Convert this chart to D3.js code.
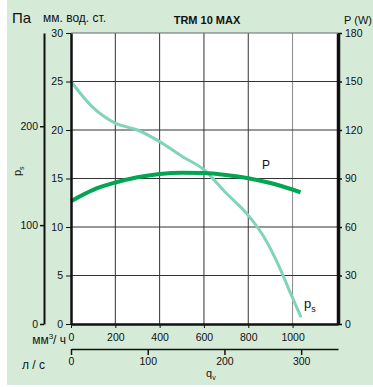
<!DOCTYPE html>
<html>
<head>
<meta charset="utf-8">
<script src="https://cdn.jsdelivr.net/npm/d3@7"></script>
<style>
  body { margin: 0; background: #fff; }
  svg text { font-family: "Liberation Sans", Arial, sans-serif; fill: #111; }
  .axis path, .axis line { stroke: #111; }
  .axis text { font-size: 10.5px; }
</style>
</head>
<body>
<svg id="chart" width="373" height="387"></svg>
<script>
// ---- data ----
var flowTicks = [0, 200, 400, 600, 800, 1000];        // m3/h
var mmTicks = [0, 5, 10, 15, 20, 25, 30];             // mm water column
var paTicks = [0, 100, 200];                          // Pa
var wattTicks = [0, 30, 60, 90, 120, 150, 180];       // W
var lsTicks = [0, 100, 200, 300];                     // l/s

// static pressure curve ps (mm H2O) vs flow (m3/h)
var psFlow   = [0, 100, 200, 300, 400, 500, 600, 700, 800, 870, 940, 990, 1036];
var psValues = [25, 22.3, 20.7, 20.0, 18.8, 17.3, 15.9, 13.5, 11.2, 9.0, 5.9, 3.2, 0.8];

// power curve P (W) vs flow (m3/h)
var pFlow   = [0, 100, 200, 300, 400, 500, 600, 700, 800, 900, 1036];
var pValues = [76, 83, 87.5, 90.8, 92.8, 93.6, 93.4, 92.2, 90.2, 87.2, 81.5];

var svg = d3.select("#chart");

// background
svg.append("rect").attr("x", 7).attr("y", 0).attr("width", 366).attr("height", 385)
    .attr("fill", "#d5ebd7");

var plotLeft = 71, plotRight = 338, plotTop = 33, plotBottom = 324;

var x = d3.scaleLinear().domain([0, 1205]).range([plotLeft, plotRight]);
var yMM = d3.scaleLinear().domain([0, 30]).range([plotBottom, plotTop]);
var yPa = d3.scaleLinear().domain([0, 30 * 9.81]).range([plotBottom, plotTop]);
var yW = d3.scaleLinear().domain([0, 180]).range([plotBottom, plotTop]);
var xLs = d3.scaleLinear().domain([0, 348]).range([plotLeft, plotRight]);

// plot area
svg.append("rect").attr("x", plotLeft).attr("y", plotTop)
    .attr("width", plotRight - plotLeft).attr("height", plotBottom - plotTop).attr("fill", "#fff");

//grid
var grid = svg.append("g");
grid.selectAll(".vg").data(flowTicks.slice(1)).enter().append("line")
    .attr("x1", function(d){ return x(d); }).attr("x2", function(d){ return x(d); })
    .attr("y1", plotTop).attr("y2", plotBottom)
    .attr("stroke", function(d){ return d == 1000 ? "#888" : "#333"; })
    .attr("stroke-width", 1);
grid.selectAll(".hg").data(mmTicks.slice(1)).enter().append("line")
    .attr("x1", plotLeft).attr("x2", plotRight)
    .attr("y1", function(d){ return yMM(d); }).attr("y2", function(d){ return yMM(d); })
    .attr("stroke", function(d){ return d == 30 ? "#666" : "#333"; })
    .attr("stroke-width", 1);

// curves
var line = d3.line().curve(d3.curveMonotoneX);

svg.append("path")
    .attr("d", line(psFlow.map(function(d, i){ return [x(d), yMM(psValues[i])]; })))
    .attr("fill", "none").attr("stroke", "#82d3bb").attr("stroke-width", 3)
    .attr("stroke-linecap", "round");

svg.append("path")
    .attr("d", line(pFlow.map(function(d, i){ return [x(d), yW(pValues[i])]; })))
    .attr("fill", "none").attr("stroke", "#00a651").attr("stroke-width", 4)
    .attr("stroke-linecap", "butt");

var fmt = d3.format("d");

// left mm axis
var axMM = svg.append("g").attr("class", "axis")
    .attr("transform", "translate(" + plotLeft + ",0)")
    .call(d3.axisLeft(yMM).tickValues(mmTicks).tickFormat(fmt).tickSize(5).tickSizeOuter(0).tickPadding(3));
axMM.select(".domain").attr("stroke-width", 2.5);

// Pa axis
var axPa = svg.append("g").attr("class", "axis")
    .attr("transform", "translate(44,0)")
    .call(d3.axisLeft(yPa).tickValues(paTicks).tickFormat(fmt).tickSize(4).tickSizeOuter(0).tickPadding(2));
axPa.select(".domain").attr("stroke-width", 2);
axPa.selectAll(".tick line").attr("stroke-width", 1.5);

// right W axis
var axW = svg.append("g").attr("class", "axis")
    .attr("transform", "translate(" + plotRight + ",0)")
    .call(d3.axisRight(yW).tickValues(wattTicks).tickFormat(fmt).tickSize(4).tickSizeOuter(0).tickPadding(3));
axW.select(".domain").attr("stroke-width", 3.5);
axW.selectAll(".tick line").attr("stroke-width", 1.5);

// bottom m3/h axis
var axQ = svg.append("g").attr("class", "axis")
    .attr("transform", "translate(0," + plotBottom + ")")
    .call(d3.axisBottom(x).tickValues(flowTicks).tickFormat(fmt).tickSize(4).tickSizeOuter(0).tickPadding(6));
axQ.select(".domain").attr("stroke-width", 2.5);

// l/s axis
var axLs = svg.append("g").attr("class", "axis")
    .attr("transform", "translate(0,349)")
    .call(d3.axisBottom(xLs).tickValues(lsTicks).tickFormat(fmt).tickSize(6).tickSizeOuter(0).tickPadding(3));
axLs.select(".domain").attr("stroke-width", 1.5);
axLs.selectAll(".tick line").attr("stroke-width", 1.5);

// texts
svg.append("text").attr("x", 12).attr("y", 23).style("font-size", "15px").text("Па");
svg.append("text").attr("x", 43).attr("y", 22).style("font-size", "12px").text("мм. вод. ст.");
svg.append("text").attr("x", 207).attr("y", 24).attr("text-anchor", "middle")
    .style("font-size", "11px").style("font-weight", "bold").text("TRM 10 MAX");
svg.append("text").attr("x", 372).attr("y", 24).attr("text-anchor", "end")
    .style("font-size", "11px").text("P (W)");

var flowLabel = svg.append("text").attr("x", 66).attr("y", 344).attr("text-anchor", "end")
    .style("font-size", "12px");
flowLabel.append("tspan").text("мм");
flowLabel.append("tspan").attr("dy", -5).style("font-size", "8px").text("3");
flowLabel.append("tspan").attr("dy", 5).text("/ ч");

svg.append("text").attr("x", 22).attr("y", 369).style("font-size", "12px").text("л / с");

var qv = svg.append("text").attr("x", 206).attr("y", 377).style("font-size", "11px");
qv.append("tspan").text("q");
qv.append("tspan").attr("dy", 3).style("font-size", "7px").text("v");

var psAxisLabel = svg.append("text").attr("transform", "translate(21,176) rotate(-90)")
    .style("font-size", "11px");
psAxisLabel.append("tspan").text("p");
psAxisLabel.append("tspan").attr("dy", 3).style("font-size", "7px").text("s");

svg.append("text").attr("x", 262).attr("y", 169).style("font-size", "12px").text("P");
var psLabel = svg.append("text").attr("x", 304).attr("y", 308).style("font-size", "13px");
psLabel.append("tspan").text("p");
psLabel.append("tspan").attr("dy", 4).style("font-size", "9px").text("s");
</script>
</body>
</html>
